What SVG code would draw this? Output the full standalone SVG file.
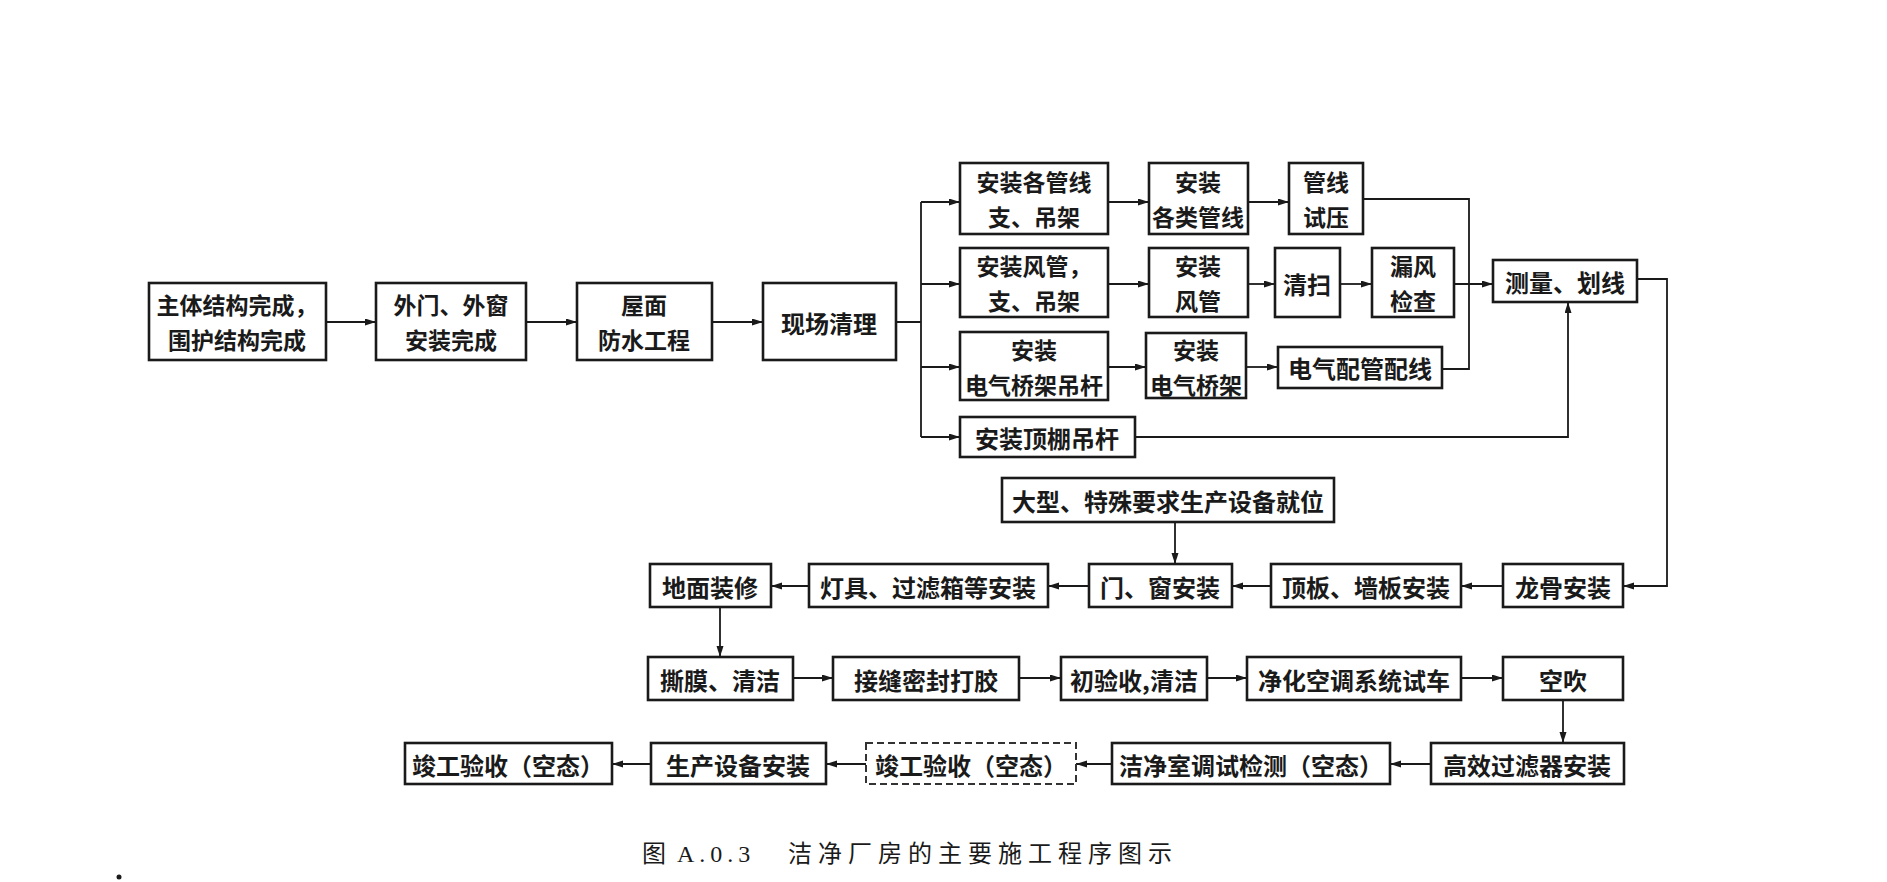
<svg xmlns="http://www.w3.org/2000/svg" width="1887" height="882" viewBox="0 0 1887 882">
<defs>
<marker id="ah" markerWidth="12" markerHeight="8" refX="11" refY="3.5" orient="auto" markerUnits="userSpaceOnUse">
<path d="M0,0 L11,3.5 L0,7 z" fill="#1a1a1a"/>
</marker>
<style>
.b{fill:#fff;stroke:#1a1a1a;stroke-width:2.6}
.d{fill:#fff;stroke:#333;stroke-width:2;stroke-dasharray:7,4}
.t{font-family:"Noto Sans CJK SC","Noto Sans CJK TC",sans-serif;font-size:24px;font-weight:700;fill:#1a1a1a;text-anchor:middle;dominant-baseline:central}
.t2{font-size:23px}
.c{fill:none;stroke:#1a1a1a;stroke-width:1.8}
.a{fill:none;stroke:#1a1a1a;stroke-width:1.8;marker-end:url(#ah)}
.cap{font-family:"Liberation Serif","Noto Sans CJK SC",serif;font-size:24px;fill:#1a1a1a}
</style>
</defs>
<rect width="1887" height="882" fill="#fff"/>

<g id="connectors">
<path class="a" d="M326,322 H376"/>
<path class="a" d="M526,322 H577"/>
<path class="a" d="M712,322 H763"/>
<path class="c" d="M896,322 H921 M921,202 V437"/>
<path class="a" d="M921,202 H960"/>
<path class="a" d="M921,284 H960"/>
<path class="a" d="M921,367 H960"/>
<path class="a" d="M921,437 H960"/>
<path class="a" d="M1108,202 H1149"/>
<path class="a" d="M1248,202 H1289"/>
<path class="a" d="M1108,284 H1149"/>
<path class="a" d="M1248,284 H1275"/>
<path class="a" d="M1340,284 H1372"/>
<path class="c" d="M1363,199 H1469 V369 H1442"/>
<path class="a" d="M1454,284 H1493"/>
<path class="a" d="M1108,367 H1146"/>
<path class="a" d="M1246,367 H1278"/>
<path class="a" d="M1135,437 H1568 V302"/>
<path class="a" d="M1637,279 H1667 V586 H1623"/>
<path class="a" d="M1503,586 H1461"/>
<path class="a" d="M1271,586 H1232"/>
<path class="a" d="M1175,522 V564"/>
<path class="a" d="M1089,586 H1048"/>
<path class="a" d="M809,586 H771"/>
<path class="a" d="M720,607 V657"/>
<path class="a" d="M793,678 H833"/>
<path class="a" d="M1019,678 H1061"/>
<path class="a" d="M1207,678 H1247"/>
<path class="a" d="M1461,678 H1503"/>
<path class="a" d="M1563,700 V743"/>
<path class="a" d="M1431,764 H1390"/>
<path class="a" d="M1112,764 H1076"/>
<path class="a" d="M866,764 H826"/>
<path class="a" d="M651,764 H612"/>
</g>

<g id="n1"><rect class="b" x="149" y="283" width="177" height="77"/><text class="t t2"><tspan x="237" y="304">主体结构完成，</tspan><tspan x="237" y="339">围护结构完成</tspan></text></g>
<g id="n2"><rect class="b" x="376" y="283" width="150" height="77"/><text class="t t2"><tspan x="451" y="304">外门、外窗</tspan><tspan x="451" y="339">安装完成</tspan></text></g>
<g id="n3"><rect class="b" x="577" y="283" width="135" height="77"/><text class="t t2"><tspan x="644" y="304">屋面</tspan><tspan x="644" y="339">防水工程</tspan></text></g>
<g id="n4"><rect class="b" x="763" y="283" width="133" height="77"/><text class="t" x="829" y="322">现场清理</text></g>

<g id="a1"><rect class="b" x="960" y="163" width="148" height="71"/><text class="t t2"><tspan x="1034" y="181">安装各管线</tspan><tspan x="1034" y="216">支、吊架</tspan></text></g>
<g id="a2"><rect class="b" x="1149" y="163" width="99" height="71"/><text class="t t2"><tspan x="1198" y="181">安装</tspan><tspan x="1198" y="216">各类管线</tspan></text></g>
<g id="a3"><rect class="b" x="1289" y="163" width="74" height="71"/><text class="t t2"><tspan x="1326" y="181">管线</tspan><tspan x="1326" y="216">试压</tspan></text></g>

<g id="b1"><rect class="b" x="960" y="248" width="148" height="69"/><text class="t t2"><tspan x="1034" y="265">安装风管，</tspan><tspan x="1034" y="300">支、吊架</tspan></text></g>
<g id="b2"><rect class="b" x="1149" y="248" width="99" height="69"/><text class="t t2"><tspan x="1198" y="265">安装</tspan><tspan x="1198" y="300">风管</tspan></text></g>
<g id="b3"><rect class="b" x="1275" y="248" width="65" height="69"/><text class="t" x="1307" y="283">清扫</text></g>
<g id="b4"><rect class="b" x="1372" y="248" width="82" height="69"/><text class="t t2"><tspan x="1413" y="265">漏风</tspan><tspan x="1413" y="300">检查</tspan></text></g>
<g id="m"><rect class="b" x="1493" y="260" width="144" height="42"/><text class="t" x="1565" y="281">测量、划线</text></g>

<g id="c1"><rect class="b" x="960" y="332" width="148" height="68"/><text class="t t2"><tspan x="1034" y="349">安装</tspan><tspan x="1034" y="384">电气桥架吊杆</tspan></text></g>
<g id="c2"><rect class="b" x="1146" y="333" width="100" height="65"/><text class="t t2"><tspan x="1196" y="349">安装</tspan><tspan x="1196" y="384">电气桥架</tspan></text></g>
<g id="c3"><rect class="b" x="1278" y="347" width="164" height="41"/><text class="t" x="1360" y="367">电气配管配线</text></g>
<g id="d1"><rect class="b" x="960" y="417" width="175" height="40"/><text class="t" x="1047" y="437">安装顶棚吊杆</text></g>

<g id="big"><rect class="b" x="1002" y="478" width="332" height="44"/><text class="t" x="1168" y="500">大型、特殊要求生产设备就位</text></g>

<g id="r1"><rect class="b" x="1503" y="564" width="120" height="43"/><text class="t" x="1563" y="586">龙骨安装</text></g>
<g id="r2"><rect class="b" x="1271" y="564" width="190" height="43"/><text class="t" x="1366" y="586">顶板、墙板安装</text></g>
<g id="r3"><rect class="b" x="1089" y="564" width="143" height="43"/><text class="t" x="1160" y="586">门、窗安装</text></g>
<g id="r4"><rect class="b" x="809" y="564" width="239" height="43"/><text class="t" x="928" y="586">灯具、过滤箱等安装</text></g>
<g id="r5"><rect class="b" x="650" y="564" width="121" height="43"/><text class="t" x="710" y="586">地面装修</text></g>

<g id="s1"><rect class="b" x="648" y="657" width="145" height="43"/><text class="t" x="720" y="679">撕膜、清洁</text></g>
<g id="s2"><rect class="b" x="833" y="657" width="186" height="43"/><text class="t" x="926" y="679">接缝密封打胶</text></g>
<g id="s3"><rect class="b" x="1061" y="657" width="146" height="43"/><text class="t" x="1134" y="679">初验收,清洁</text></g>
<g id="s4"><rect class="b" x="1247" y="657" width="214" height="43"/><text class="t" x="1354" y="679">净化空调系统试车</text></g>
<g id="s5"><rect class="b" x="1503" y="657" width="120" height="43"/><text class="t" x="1563" y="679">空吹</text></g>

<g id="u1"><rect class="b" x="1431" y="743" width="193" height="41"/><text class="t" x="1527" y="764">高效过滤器安装</text></g>
<g id="u2"><rect class="b" x="1112" y="743" width="278" height="41"/><text class="t" x="1251" y="764">洁净室调试检测（空态）</text></g>
<g id="u3"><rect class="d" x="866" y="743" width="210" height="41"/><text class="t" x="971" y="764">竣工验收（空态）</text></g>
<g id="u4"><rect class="b" x="651" y="743" width="175" height="41"/><text class="t" x="738" y="764">生产设备安装</text></g>
<g id="u5"><rect class="b" x="405" y="743" width="207" height="41"/><text class="t" x="508" y="764">竣工验收（空态）</text></g>

<g id="caption">
<text class="cap" x="642" y="862">图</text>
<text class="cap" x="677" y="862" letter-spacing="5">A.0.3</text>
<text class="cap" x="788" y="862" letter-spacing="6">洁净厂房的主要施工程序图示</text>
</g>
<circle cx="119" cy="877" r="2.5" fill="#1a1a1a"/>
</svg>
